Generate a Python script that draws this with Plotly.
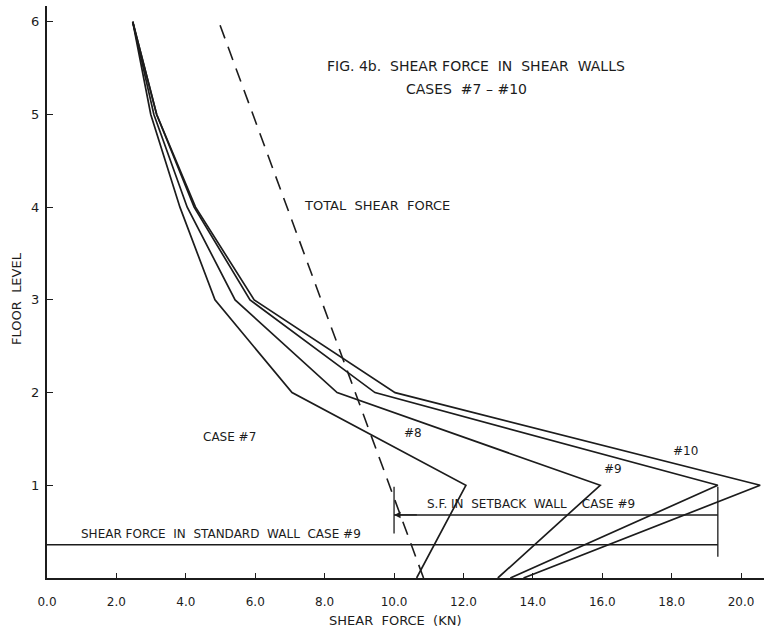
import plotly.graph_objects as go

# ---- data ----
floors = [0, 1, 2, 3, 4, 5, 6]
case7 = [10.65, 12.07, 7.06, 4.84, 3.83, 2.99, 2.47]
case8 = [12.99, 15.94, 8.36, 5.42, 4.04, 3.08, 2.47]
case9 = [13.35, 19.33, 9.45, 5.85, 4.24, 3.16, 2.47]
case10 = [13.73, 20.55, 10.03, 5.97, 4.28, 3.16, 2.47]

total_floors = [0, 6]
total_force = [10.85, 4.95]

setback_x = [10.0, 19.33]
setback_y = [0.68, 0.68]
standard_x = [0.0, 19.33]
standard_y = [0.36, 0.36]
setback_left_tick_y = [0.48, 0.985]
setback_right_tick_y = [0.23, 0.985]

x_ticks = [0, 2, 4, 6, 8, 10, 12, 14, 16, 18, 20]
x_tick_text = ["0.0", "2.0", "4.0", "6.0", "8.0", "10.0", "12.0", "14.0", "16.0", "18.0", "20.0"]
y_ticks = [1, 2, 3, 4, 5, 6]

INK = "#1c1c1c"
FONT = "DejaVu Sans"

fig = go.Figure()
for name, vals in [("Case 7", case7), ("Case 8", case8), ("Case 9", case9), ("Case 10", case10)]:
    fig.add_trace(go.Scatter(x=vals, y=floors, mode="lines", name=name,
                             line=dict(color=INK, width=1.7), showlegend=False))

fig.add_trace(go.Scatter(x=total_force, y=total_floors, mode="lines", name="Total shear force",
                         line=dict(color=INK, width=1.6, dash="14px,9px"), showlegend=False))

fig.add_trace(go.Scatter(x=setback_x, y=setback_y, mode="lines", line=dict(color=INK, width=1.5),
                         showlegend=False))
fig.add_trace(go.Scatter(x=standard_x, y=standard_y, mode="lines", line=dict(color=INK, width=1.5),
                         showlegend=False))
fig.add_trace(go.Scatter(x=[setback_x[0], setback_x[0]], y=setback_left_tick_y, mode="lines",
                         line=dict(color=INK, width=1.3), showlegend=False))
fig.add_trace(go.Scatter(x=[setback_x[1], setback_x[1]], y=setback_right_tick_y, mode="lines",
                         line=dict(color=INK, width=1.3), showlegend=False))

ann = []
def txt(x, y, s, size=13, xref="x", yref="y", angle=0):
    ann.append(dict(x=x, y=y, xref=xref, yref=yref, text=s, showarrow=False,
                    font=dict(family=FONT, size=size, color=INK), textangle=angle,
                    xanchor="center", yanchor="middle"))

txt(12.35, 5.52, "FIG. 4b.  SHEAR FORCE  IN  SHEAR  WALLS", 14)
txt(12.1, 5.28, "CASES  #7 – #10", 14)
txt(9.52, 4.02, "TOTAL  SHEAR  FORCE", 13)
txt(5.27, 1.52, "CASE #7", 12)
txt(10.56, 1.56, "#8", 12)
txt(16.32, 1.18, "#9", 12)
txt(18.41, 1.37, "#10", 12)
txt(13.95, 0.795, "S.F. IN  SETBACK  WALL    CASE #9", 12)
txt(5.0, 0.47, "SHEAR FORCE  IN  STANDARD  WALL  CASE #9", 12)
txt(0.485, -0.0737, "SHEAR  FORCE  (KN)", 13, "paper", "paper")
txt(-0.0418, 0.488, "FLOOR  LEVEL", 13, "paper", "paper", -90)

# arrowhead at the left end of the setback measurement line
ann.append(dict(x=setback_x[0], y=setback_y[0], ax=setback_x[0] + 0.7, ay=setback_y[0],
                xref="x", yref="y", axref="x", ayref="y", text="", showarrow=True,
                arrowhead=2, arrowsize=1, arrowwidth=1.3, arrowcolor=INK))

fig.update_layout(
    width=764, height=637,
    margin=dict(l=47, r=0, t=6, b=59),
    paper_bgcolor="white", plot_bgcolor="white",
    annotations=ann,
    xaxis=dict(range=[0, 20.66], showgrid=False, zeroline=False, showline=True,
               linecolor=INK, linewidth=2, ticks="inside", ticklen=5, tickcolor=INK,
               tickvals=x_ticks, ticktext=x_tick_text, ticklabelstandoff=12,
               tickfont=dict(family=FONT, size=12, color=INK)),
    yaxis=dict(range=[0, 6.17], showgrid=False, zeroline=False, showline=True,
               linecolor=INK, linewidth=2, ticks="inside", ticklen=6, tickcolor=INK,
               tickvals=y_ticks, ticklabelstandoff=3,
               tickfont=dict(family=FONT, size=13, color=INK)),
)

fig.write_html("out.html")
